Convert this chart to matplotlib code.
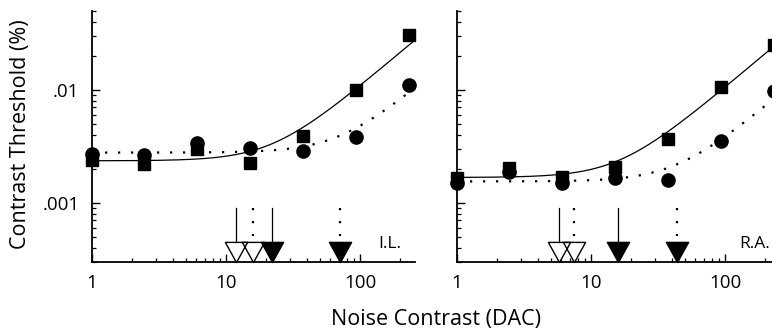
import numpy as np
import matplotlib
matplotlib.use('Agg')
import matplotlib.pyplot as plt
from matplotlib.path import Path
from matplotlib.ticker import FixedLocator, NullFormatter, LogLocator

plt.rcParams['font.family'] = ['Open Sans', 'DejaVu Sans']

# noise contrast levels (DAC)
noise = [1, 2.44, 6.08, 15.1, 37.6, 93.4, 232]

# subject I.L.
il_squares = [0.0024, 0.00221, 0.0030, 0.00226, 0.0039, 0.0100, 0.0307]
il_circles = [0.00272, 0.00266, 0.0034, 0.00307, 0.00288, 0.00383, 0.0111]
il_fit_sq = (0.00236, 22.0)    # (flat level, Neq)
il_fit_ci = (0.00279, 71.0)
il_open_solid, il_open_dot = 11.9, 15.9
il_fill_solid, il_fill_dot = 22.0, 71.0

# subject R.A.
ra_squares = [0.00165, 0.00205, 0.00171, 0.00209, 0.00368, 0.0106, 0.025]
ra_circles = [0.00151, 0.00189, 0.00151, 0.00166, 0.0016, 0.00354, 0.0097]
ra_fit_sq = (0.00168, 16.0)
ra_fit_ci = (0.00155, 43.6)
ra_open_solid, ra_open_dot = 5.77, 7.51
ra_fill_solid, ra_fill_dot = 16.0, 43.6

xlim = (1, 257)
ylim = (0.0003, 0.05)
dotted = (0, (1, 4.85))

# down-pointing triangle, a bit wider than tall
tri = Path([(-1.1, 1), (1.1, 1), (0, -1), (-1.1, 1)], closed=True)


def fit(level, neq, n):
    return level * np.sqrt(1 + (n / neq) ** 2)


def panel(ax, sq, ci, fsq, fci, arrows, name, name_x):
    n = np.logspace(0, np.log10(xlim[1] * 1.2), 300)
    ax.plot(n, fit(*fsq, n), color='black', lw=0.9, zorder=2)
    ax.plot(n, fit(*fci, n), color='black', lw=1.6, ls=dotted, zorder=2)
    ax.plot(noise, sq, 's', color='black', ms=8.5, zorder=3, clip_on=False)
    ax.plot(noise, ci, 'o', color='black', ms=9.5, zorder=4, clip_on=False)

    open_solid, open_dot, fill_solid, fill_dot = arrows
    for x in (open_solid, fill_solid):
        ax.plot([x, x], [0.0009, 0.00045], color='black', lw=0.9)
    for x in (open_dot, fill_dot):
        ax.plot([x, x], [0.0009, 0.00051], color='black', lw=1.6, ls=dotted)
    ax.plot([open_solid, open_dot], [0.00037] * 2, ls='none', marker=tri,
            ms=16, mfc='none', mec='black', mew=1.0, clip_on=False, zorder=5)
    ax.plot([fill_solid, fill_dot], [0.00037] * 2, ls='none', marker=tri,
            ms=16, mfc='black', mec='black', mew=1.0, clip_on=False, zorder=5)

    ax.text(name_x, 0.07, name, transform=ax.transAxes, ha='right',
            va='center', fontsize=12.5)

    ax.set_xscale('log')
    ax.set_yscale('log')
    ax.set_xlim(*xlim)
    ax.set_ylim(*ylim)
    ax.spines['top'].set_visible(False)
    ax.spines['right'].set_visible(False)
    for s in ('left', 'bottom'):
        ax.spines[s].set_linewidth(1.3)
    ax.xaxis.set_major_locator(FixedLocator([1, 10, 100]))
    ax.set_xticklabels(['1', '10', '100'])
    ax.xaxis.set_minor_locator(LogLocator(base=10, subs=np.arange(2, 10)))
    ax.xaxis.set_minor_formatter(NullFormatter())
    ax.yaxis.set_major_locator(FixedLocator([0.001, 0.01]))
    ax.yaxis.set_minor_locator(LogLocator(base=10, subs=np.arange(2, 10)))
    ax.yaxis.set_minor_formatter(NullFormatter())
    ax.tick_params(which='major', direction='in', length=6, width=1.0,
                   labelsize=13.5, pad=9)
    ax.tick_params(which='minor', direction='in', length=3, width=0.9)


fig = plt.figure(figsize=(7.72, 3.32), dpi=100)
ax1 = fig.add_axes([92 / 772, 1 - 262 / 332, 323 / 772, 251 / 332])
ax2 = fig.add_axes([457 / 772, 1 - 262 / 332, 323 / 772, 251 / 332])

panel(ax1, il_squares, il_circles, il_fit_sq, il_fit_ci,
      (il_open_solid, il_open_dot, il_fill_solid, il_fill_dot), 'I.L.', 0.958)
panel(ax2, ra_squares, ra_circles, ra_fit_sq, ra_fit_ci,
      (ra_open_solid, ra_open_dot, ra_fill_solid, ra_fill_dot), 'R.A.', 0.968)

ax1.set_yticklabels(['.001', '.01'])
ax2.set_yticklabels(['', ''])

fig.text(436 / 772, 1 - 320 / 332, 'Noise Contrast (DAC)', ha='center',
         va='center', fontsize=15.5)
fig.text(21 / 772, 1 - 134 / 332, 'Contrast Threshold (%)', rotation=90,
         ha='center', va='center', fontsize=15.5)

fig.savefig('out.png', dpi=100)
